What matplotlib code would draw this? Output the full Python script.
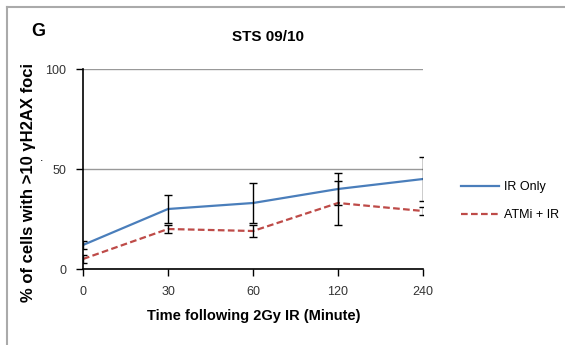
import matplotlib.pyplot as plt

plt.rcParams['font.family'] = ['Liberation Sans', 'DejaVu Sans']

# data
times = ['0', '30', '60', '120', '240']
ir_only = [12, 30, 33, 40, 45]
ir_only_err = [2, 7, 10, 8, 11]
atmi_ir = [5, 20, 19, 33, 29]
atmi_ir_err = [2, 2, 3, 11, 2]

fig = plt.figure(figsize=(5.65, 3.45), dpi=100)
ax = fig.add_axes([83 / 565, 1 - 269 / 345, 340 / 565, 200 / 345])

x = list(range(len(times)))
ax.plot(x, ir_only, color='#4a7ebb', lw=1.6, label='IR Only', zorder=3)
ax.plot(x, atmi_ir, color='#be4b48', lw=1.6, ls=(0, (3, 1.5)), label='ATMi + IR', zorder=3)
for vals, errs in [(ir_only, ir_only_err), (atmi_ir, atmi_ir_err)]:
    eb = ax.errorbar(x, vals, yerr=errs, fmt='none', ecolor='black', elinewidth=1,
                     capsize=2.8, capthick=1, zorder=4)
    # excel cuts the bars at the plot edge
    for art in list(eb[1]) + list(eb[2]):
        art.set_clip_on(True)
        art.set_clip_path(ax.patch)

ax.set_xlim(0, 4)
ax.set_ylim(0, 100)
ax.set_xticks(x)
ax.set_xticklabels(times, fontsize=9, color='#333333')
ax.set_yticks([0, 50, 100])
ax.set_yticklabels(['0', '50', '100'], fontsize=9, color='#333333')
ax.tick_params(axis='both', direction='out', length=5, width=1, color='black', pad=7)
ax.yaxis.grid(True, color='#999999', lw=1)
ax.set_axisbelow(True)
for s in ['top', 'right']:
    ax.spines[s].set_visible(False)
for s in ['left', 'bottom']:
    ax.spines[s].set_color('black')
    ax.spines[s].set_linewidth(1.2)

fig.text(254 / 565, 1 - 316 / 345, 'Time following 2Gy IR (Minute)', ha='center', va='center',
         fontsize=10.5, fontweight='bold')
fig.text(29 / 565, 1 - 182 / 345, '% of cells with >10 \u03b3H2AX foci', ha='center', va='center',
         rotation=90, fontsize=12, fontweight='bold')
fig.text(42 / 565, 1 - 158 / 345, '.', ha='center', va='center', fontsize=9)
fig.text(268 / 565, 1 - 37 / 345, 'STS 09/10', ha='center', va='center', fontsize=11,
         fontweight='bold')
fig.text(38 / 565, 1 - 31 / 345, 'G', ha='center', va='center', fontsize=13, fontweight='bold')

fig.legend(loc='upper left', bbox_to_anchor=(450 / 565, 1 - 170 / 345), frameon=False,
           fontsize=9, handlelength=3, labelspacing=1.3, handletextpad=0.4)

# panel frame
fig.add_artist(plt.Line2D([7 / 565, 7 / 565], [0, 1 - 7 / 345], color='#aaaaaa', lw=1.5))
fig.add_artist(plt.Line2D([7 / 565, 1], [1 - 7 / 345, 1 - 7 / 345], color='#aaaaaa', lw=1.5))

fig.savefig('out.png', dpi=100)
